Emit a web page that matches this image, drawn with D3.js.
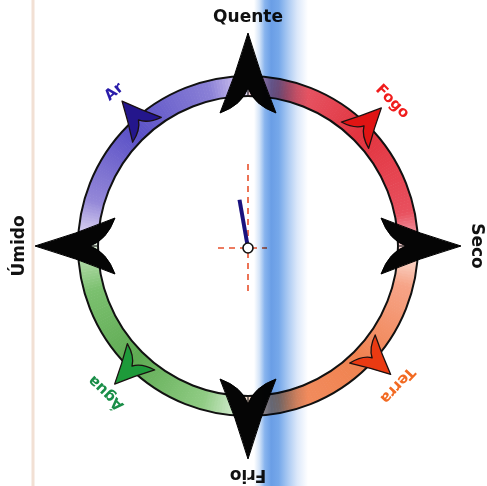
<!DOCTYPE html>
<html>
<head>
<meta charset="utf-8">
<script src="https://cdn.jsdelivr.net/npm/d3@7"></script>
<style>
	body { margin: 0; background: #fff; }
	svg { display: block; }
	text { font-family: 'DejaVu Sans', sans-serif; font-weight: bold; }
</style>
</head>
<body>
<svg id="chart" width="487" height="486"></svg>
<script>
// data
var directions = ['Quente', 'Seco', 'Frio', 'Úmido'];
var directionAngles = [0, 90, 180, 270];

var elements = ['Fogo', 'Terra', 'Água', 'Ar'];
var elementAngles = [44, 132, 224, 319];
var elementLabelAngles = [45, 133, 224, 319];
var elementFill = ['#e01414', '#ea3a12', '#1e9a3a', '#24168c'];
var elementText = ['#f01c1c', '#f26a22', '#1a8e48', '#2a1caa'];

// ring colour stops (degrees, clockwise from top)
var ringAngles = [0, 4, 14, 45, 78, 86, 90, 94, 104, 135, 166, 176, 180, 184, 196, 225, 254, 266, 270, 274, 286, 315, 346, 356, 360];
var ringColors = ['#f6d4dc', '#f0a4b6', '#e65c6c', '#e2343f', '#e8505e', '#f094a0', '#f8d4d4',
	'#fad8cc', '#f6a488', '#f08250', '#f28e60', '#f6b898', '#f8dccc',
	'#d4ecd0', '#90cc84', '#5eaa52', '#7cc070', '#b4dcaa', '#dceed6',
	'#dcd4f2', '#9488d8', '#5a50c6', '#8a80d6', '#c8bcec', '#e0d8f4'];

var needleAngle = -10;
var needleLength = 49;

// layout
var svg = d3.select('svg#chart');
var cx = 248, cy = 246;
var rOuter = 170, rInner = 150;

var rad = d3.scaleLinear().domain([0, 360]).range([0, 2 * Math.PI]);
var ringColor = d3.scaleLinear().domain(ringAngles).range(ringColors).interpolate(d3.interpolateRgb);

// blue glow gradient
var defs = svg.append('defs');
var grad = defs.append('linearGradient')
	.attr('id', 'band')
	.attr('gradientUnits', 'userSpaceOnUse')
	.attr('x1', 254).attr('x2', 308).attr('y1', 0).attr('y2', 0);
[[0, '#ffffff'], [0.1, '#d4e4f8'], [0.2, '#88b4ee'], [0.32, '#6a9ee6'], [0.46, '#76a8ea'], [0.62, '#a8c8f2'], [0.8, '#dce8fa'], [1, '#ffffff']]
	.forEach(function (s) {
		grad.append('stop').attr('offset', s[0]).attr('stop-color', s[1]);
	});

// faint line on the left
svg.append('rect')
	.attr('x', 31.5).attr('y', 0)
	.attr('width', 3).attr('height', 486)
	.style('fill', '#f2e0d4');

var g = svg.append('g')
	.attr('transform', 'translate(' + cx + ',' + cy + ')');

// ring
var arc = d3.arc().innerRadius(rInner).outerRadius(rOuter);
var steps = d3.range(0, 360, 1);

g.append('g')
	.selectAll('path')
	.data(steps)
	.enter()
	.append('path')
	.attr('d', function (d) {
		return arc({ startAngle: rad(d), endAngle: rad(d + 1.2) });
	})
	.style('fill', function (d) {
		return ringColor(d + 0.5);
	});

g.append('circle').attr('r', rOuter).style('fill', 'none').style('stroke', '#111').style('stroke-width', 2);
g.append('circle').attr('r', rInner).style('fill', 'none').style('stroke', '#111').style('stroke-width', 2);

// dividing lines in the ring at the cardinal points
g.selectAll('line.divider')
	.data(directionAngles)
	.enter()
	.append('line')
	.attr('class', 'divider')
	.attr('x1', 0).attr('x2', 0)
	.attr('y1', -rInner).attr('y2', -rOuter)
	.attr('transform', function (d) { return 'rotate(' + d + ')'; })
	.style('stroke', '#222')
	.style('stroke-width', 1.2);

// big black arrowheads
var bigArrow = 'M0,-213 Q12,-172 28,-133 Q6,-141 0,-158 Q-6,-141 -28,-133 Q-12,-172 0,-213 Z';

g.selectAll('path.cardinal')
	.data(directionAngles)
	.enter()
	.append('path')
	.attr('class', 'cardinal')
	.attr('d', bigArrow)
	.attr('transform', function (d) { return 'rotate(' + d + ')'; })
	.style('fill', '#050505')
	.style('stroke', '#000')
	.style('stroke-width', 1);

// small coloured arrowheads
var smallArrow = 'M0,-192 Q9,-172 19,-154 Q5,-158 0,-167 Q-5,-158 -19,-154 Q-9,-172 0,-192 Z';

g.selectAll('path.element')
	.data(elementAngles)
	.enter()
	.append('path')
	.attr('class', 'element')
	.attr('d', smallArrow)
	.attr('transform', function (d) { return 'rotate(' + d + ')'; })
	.style('fill', function (d, i) { return elementFill[i]; })
	.style('stroke', '#1a1010')
	.style('stroke-width', 1.3)
	.style('stroke-linejoin', 'round');

// labels
g.selectAll('text.direction')
	.data(directions)
	.enter()
	.append('text')
	.attr('class', 'direction')
	.attr('transform', function (d, i) {
		return 'rotate(' + directionAngles[i] + ') translate(0,' + (-230) + ')';
	})
	.attr('text-anchor', 'middle')
	.attr('dominant-baseline', 'central')
	.style('font-size', '17px')
	.style('fill', '#111')
	.text(function (d) { return d; });

g.selectAll('text.element')
	.data(elements)
	.enter()
	.append('text')
	.attr('class', 'element')
	.attr('transform', function (d, i) {
		return 'rotate(' + elementLabelAngles[i] + ') translate(0,' + (-205) + ')';
	})
	.attr('text-anchor', 'middle')
	.attr('dominant-baseline', 'central')
	.style('font-size', '15px')
	.style('fill', function (d, i) { return elementText[i]; })
	.text(function (d) { return d; });

// centre: dashed cross, needle, pivot
var c = svg.append('g').attr('transform', 'translate(248,248)');

c.append('line')
	.attr('x1', -30).attr('x2', 19).attr('y1', 0).attr('y2', 0)
	.style('stroke', '#e8502c').style('stroke-width', 1.6).style('stroke-dasharray', '6,5');
c.append('line')
	.attr('x1', 0).attr('x2', 0).attr('y1', -84).attr('y2', 44)
	.style('stroke', '#e8502c').style('stroke-width', 1.6).style('stroke-dasharray', '6,5');

c.append('line')
	.attr('x1', 0).attr('y1', 0)
	.attr('x2', needleLength * Math.sin(rad(needleAngle)))
	.attr('y2', -needleLength * Math.cos(rad(needleAngle)))
	.style('stroke', '#1a127e')
	.style('stroke-width', 4);

c.append('circle')
	.attr('r', 5)
	.style('fill', '#fff')
	.style('stroke', '#111')
	.style('stroke-width', 1.6);

// vertical blue glow over everything
svg.append('rect')
	.attr('x', 254).attr('y', 0)
	.attr('width', 54).attr('height', 486)
	.style('fill', 'url(#band)')
	.style('mix-blend-mode', 'multiply');
</script>
</body>
</html>
